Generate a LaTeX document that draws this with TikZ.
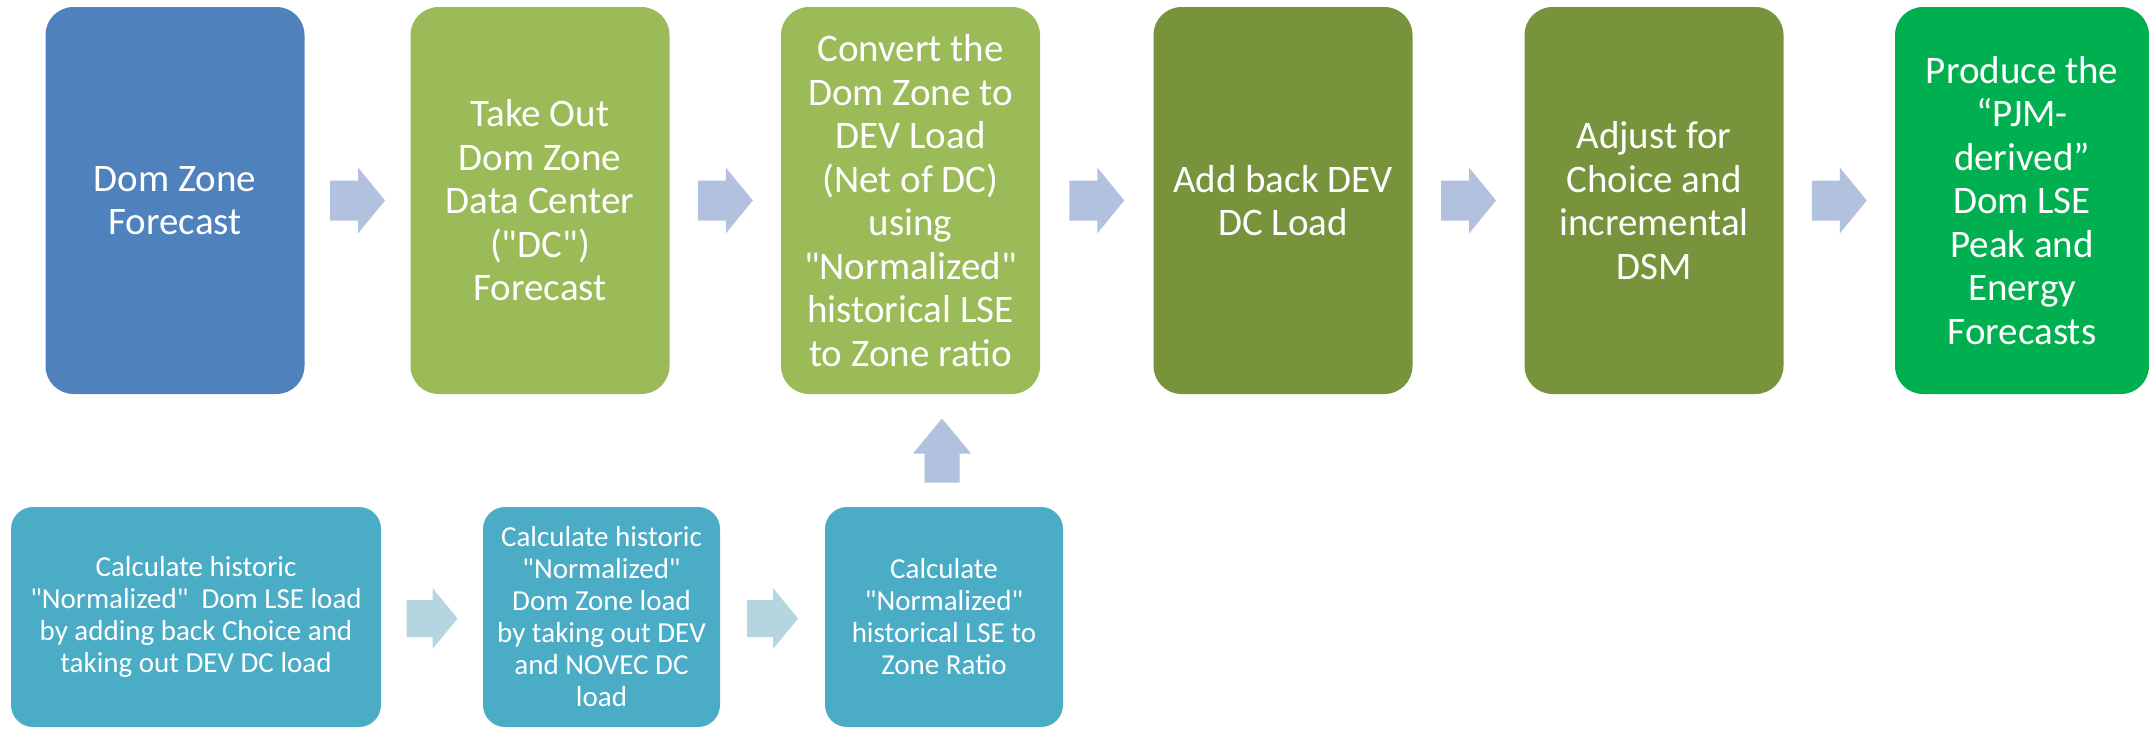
\documentclass[tikz,border=0pt]{standalone}
\usepackage{fontspec}
\newfontfamily\carl{Carlito}
\usetikzlibrary{calc}
\definecolor{cblue}{HTML}{4F81BD}
\definecolor{cgreenA}{HTML}{9BBB59}
\definecolor{cgreenB}{HTML}{77933C}
\definecolor{cgreenC}{HTML}{00B050}
\definecolor{cteal}{HTML}{4BACC6}
\definecolor{carrtop}{HTML}{B1C1DE}
\definecolor{carrbot}{HTML}{B5D5E0}
\begin{document}
\begin{tikzpicture}[x=1pt,y=-1pt,
  topbox/.style={rectangle, rounded corners=28pt, minimum width=259pt, minimum height=387pt,
    inner sep=0pt, align=center, text=white, font=\carl\fontsize{39}{43.5}\selectfont},
  botbox/.style={rectangle, rounded corners=22pt, minimum height=220pt,
    inner sep=0pt, align=center, text=white, font=\carl\fontsize{29}{32}\selectfont},
  rarrow/.pic={\fill[pic actions] (-27.5,-20) -- (0.5,-20) -- (0.5,-33) -- (27.5,0) -- (0.5,33) -- (0.5,20) -- (-27.5,20) -- cycle;},
  rarrowsmall/.pic={\fill[pic actions] (-25.5,-18.5) -- (0.5,-18.5) -- (0.5,-30.5) -- (25.5,0) -- (0.5,30.5) -- (0.5,18.5) -- (-25.5,18.5) -- cycle;},
  uarrow/.pic={\fill[pic actions] (-17.5,32) -- (-17.5,3) -- (-29,3) -- (0,-32) -- (29,3) -- (17.5,3) -- (17.5,32) -- cycle;}
]
\useasboundingbox (0,0) rectangle (2149,728);

\node[topbox, fill=cblue] (b1) at (175,200.5) {Dom Zone\\Forecast};
\node[topbox, fill=cgreenA] (b2) at (540,200.5) {Take Out\\Dom Zone\\Data Center\\("DC")\\Forecast};
\node[topbox, fill=cgreenA] (b3) at (910.5,200.5) {Convert the\\Dom Zone to\\DEV Load\\(Net of DC)\\using\\"Normalized"\\historical LSE\\to Zone ratio};
\node[topbox, fill=cgreenB] (b4) at (1283,200.5) {Add back DEV\\DC Load};
\node[topbox, fill=cgreenB] (b5) at (1654,200.5) {Adjust for\\Choice and\\incremental\\DSM};
\node[topbox, fill=cgreenC, minimum width=254pt] (b6) at (2022,200.5) {Produce the\\“PJM-\\derived”\\Dom LSE\\Peak and\\Energy\\Forecasts};

\node[botbox, fill=cteal, minimum width=370pt] (b7) at (196,617) {Calculate historic\\"Normalized"\ \ Dom LSE load\\by adding back Choice and\\taking out DEV DC load};
\node[botbox, fill=cteal, minimum width=237pt] (b8) at (601.5,617) {Calculate historic\\"Normalized"\\Dom Zone load\\by taking out DEV\\and NOVEC DC\\load};
\node[botbox, fill=cteal, minimum width=238pt] (b9) at (944,617) {Calculate\\"Normalized"\\historical LSE to\\Zone Ratio};

\pic[fill=carrtop] at ($(b1.east)!0.5!(b2.west)$) {rarrow};
\pic[fill=carrtop] at ($(b2.east)!0.5!(b3.west)$) {rarrow};
\pic[fill=carrtop] at ($(b3.east)!0.5!(b4.west)$) {rarrow};
\pic[fill=carrtop] at ($(b4.east)!0.5!(b5.west)$) {rarrow};
\pic[fill=carrtop] at ($(b5.east)!0.5!(b6.west)$) {rarrow};

\pic[fill=carrbot] at ($(b7.east)!0.5!(b8.west)+(0,1.5)$) {rarrowsmall};
\pic[fill=carrbot] at ($(b8.east)!0.5!(b9.west)+(0,1.5)$) {rarrowsmall};

\coordinate (upmid) at ($(b9.north |- b3.south)!0.5!(b9.north)$);
\pic[fill=carrtop] at ($(upmid)+(-2,0)$) {uarrow};
\end{tikzpicture}
\end{document}
